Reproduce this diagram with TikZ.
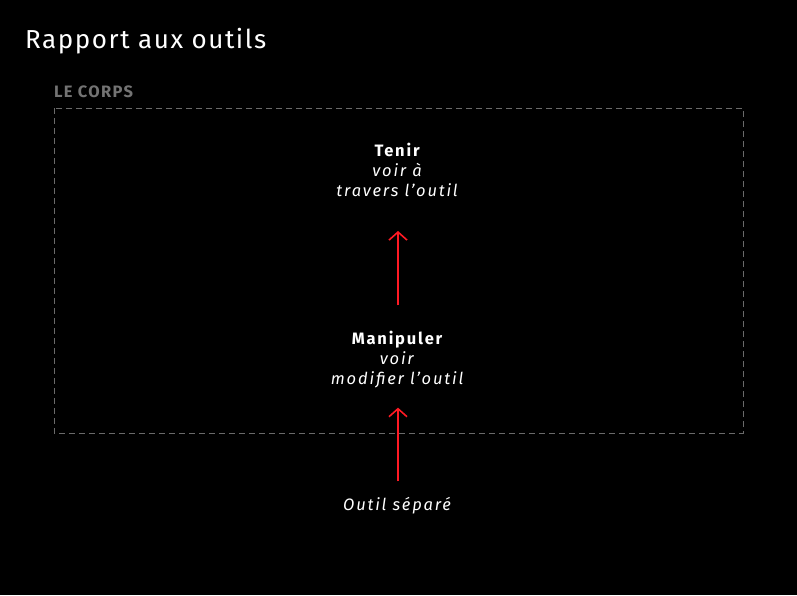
\documentclass[tikz,border=0pt]{standalone}
\usepackage{fontspec}
\setmainfont{Fira Sans}
\newfontfamily\titlefont[LetterSpace=6]{Fira Sans}
\newfontfamily\bodyfont[LetterSpace=11]{Fira Sans}
\newfontfamily\labelfont[LetterSpace=8]{Fira Sans}
\usetikzlibrary{arrows.meta}
\definecolor{redarrow}{HTML}{FF1A24}
\definecolor{labelgray}{HTML}{737373}
\definecolor{dashgray}{HTML}{6A6A6A}
\begin{document}
\begin{tikzpicture}[x=1pt,y=-1pt,
  txt/.style={text=white,align=center,inner sep=0pt,font=\bodyfont\fontsize{16.5}{20}\selectfont},
  link/.style={draw=redarrow,line width=1.6pt,-{Straight Barb[length=8pt,width=18pt,line width=1.6pt]}}]
\fill[black] (0,0) rectangle (797,595);
\useasboundingbox (0,0) rectangle (797,595);
\node[anchor=base west,text=white,inner sep=0pt,font=\titlefont\fontsize{26}{30}\selectfont] (title) at (25,48) {Rapport aux outils};
\node[anchor=base west,text=labelgray,inner sep=0pt,font=\labelfont\fontsize{16.5}{18}\selectfont\bfseries] (corps) at (54,97) {LE CORPS};
\draw[dashgray,line width=1pt,dash pattern=on 6pt off 4pt] (54,108) rectangle (743,433);
\node[txt] (tenir) at (398,170) {\textbf{Tenir}\\\textit{voir à}\\\textit{travers l’outil}};
\node[txt] (manip) at (398,360) {\textbf{Manipuler}\\\textit{voir}\\\textit{modifier l’outil}};
\node[txt] (sep) at (398,506) {\textit{Outil séparé}};
\draw[link,shorten <=26pt,shorten >=34pt] (manip) -- (tenir);
\draw[link,shorten <=16pt,shorten >=19pt] (sep) -- (manip);
\end{tikzpicture}
\end{document}
